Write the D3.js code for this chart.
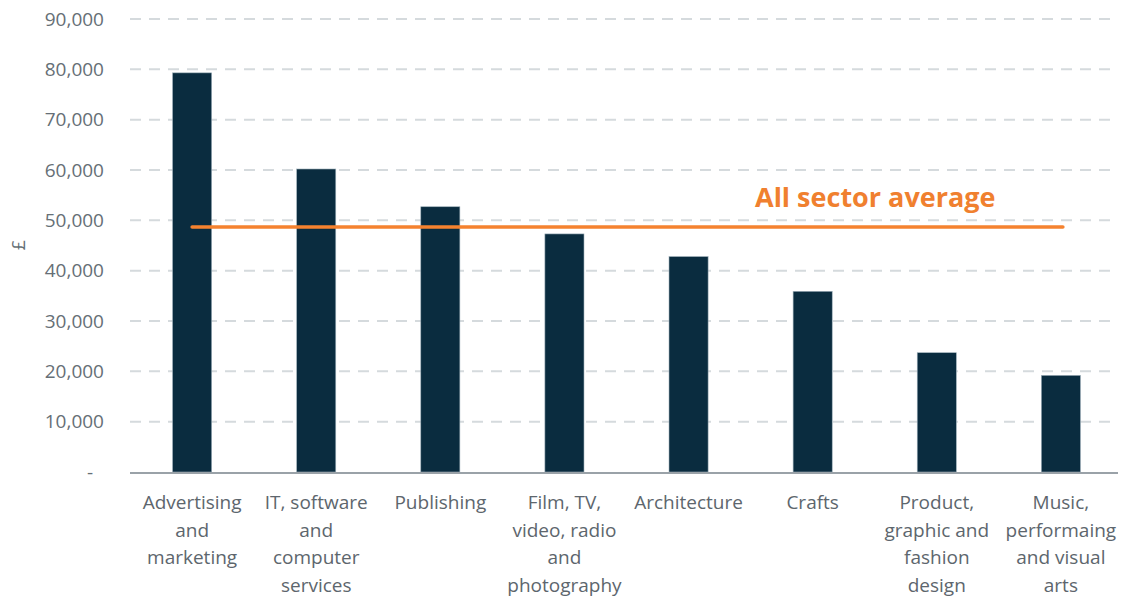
<!DOCTYPE html>
<html>
<head>
<meta charset="utf-8">
<script src="https://cdn.jsdelivr.net/npm/d3@7"></script>
<style>
  body { margin: 0; background: #fff; }
  text { font-family: "Open Sans", sans-serif; }
</style>
</head>
<body>
<div id="d3-container"></div>
<script>
/* DATA */
const categories = [
  ["Advertising", "and", "marketing"],
  ["IT, software", "and", "computer", "services"],
  ["Publishing"],
  ["Film, TV,", "video, radio", "and", "photography"],
  ["Architecture"],
  ["Crafts"],
  ["Product,", "graphic and", "fashion", "design"],
  ["Music,", "performaing", "and visual", "arts"]
];
const values = [79300, 60200, 52700, 47300, 42800, 35900, 23700, 19200];
const average = 48700;
const averageLabel = "All sector average";
const yTicks = [0, 10000, 20000, 30000, 40000, 50000, 60000, 70000, 80000, 90000];

/* CONSTANTS */
const width = 1127,
  height = 599,
  margin = { top: 19, bottom: 127, left: 130, right: 4 };

const svg = d3.select("#d3-container")
  .append("svg")
  .attr("width", width)
  .attr("height", height);

const keys = categories.map(d => d.join(" "));

const x = d3.scaleBand()
  .domain(keys)
  .range([margin.left, width - margin.right])
  .paddingInner(0.685)
  .paddingOuter(0.343);

const y = d3.scaleLinear()
  .domain([0, 90000])
  .range([height - margin.bottom, margin.top]);

// gridlines
svg.append("g")
  .selectAll("line")
  .data(yTicks.slice(1))
  .join("line")
  .attr("x1", margin.left)
  .attr("x2", width - 9)
  .attr("y1", d => y(d))
  .attr("y2", d => y(d))
  .attr("stroke", "#d5dadd")
  .attr("stroke-width", 2)
  .attr("stroke-dasharray", "11 8");

// y axis labels
const yAxis = svg.append("g")
  .attr("transform", `translate(${margin.left - 26},0)`)
  .call(d3.axisLeft(y).tickValues(yTicks).tickSize(0).tickPadding(0)
    .tickFormat(d => d === 0 ? "-" : d3.format(",")(d)));
yAxis.select(".domain").remove();
yAxis.selectAll("text")
  .attr("fill", "#666f76")
  .style("font-size", "19px")
  .style("font-family", "'Open Sans', sans-serif")
  .attr("dx", d => d === 0 ? -11 : 0);

// y axis title
svg.append("text")
  .attr("transform", `translate(25,245) rotate(-90)`)
  .attr("text-anchor", "middle")
  .attr("fill", "#666f76")
  .style("font-size", "18px")
  .text("£");

// bars
svg.append("g")
  .selectAll("rect")
  .data(values)
  .join("rect")
  .attr("x", (d, i) => x(keys[i]))
  .attr("y", d => y(d))
  .attr("width", x.bandwidth())
  .attr("height", d => y(0) - y(d))
  .attr("fill", "#0a2c3f")
  .attr("stroke", "#9fb0ba")
  .attr("stroke-width", 0.6);

// x axis line
svg.append("line")
  .attr("x1", margin.left)
  .attr("x2", 1118)
  .attr("y1", y(0) + 1)
  .attr("y2", y(0) + 1)
  .attr("stroke", "#9aa2a8")
  .attr("stroke-width", 2);

// category labels
const labels = svg.append("g")
  .selectAll("text")
  .data(categories)
  .join("text")
  .attr("x", (d, i) => x(keys[i]) + x.bandwidth() / 2)
  .attr("y", 509)
  .attr("text-anchor", "middle")
  .attr("fill", "#5d666d")
  .style("font-size", "19px");
labels.selectAll("tspan")
  .data(d => d)
  .join("tspan")
  .attr("x", function () { return d3.select(this.parentNode).attr("x"); })
  .attr("dy", (d, i) => i === 0 ? 0 : 27.7)
  .text(d => d);

// average line
const avgX1 = x(keys[0]) + x.bandwidth() / 2;
const avgX2 = x(keys[keys.length - 1]) + x.bandwidth() / 2 + 2;
svg.append("line")
  .attr("x1", avgX1)
  .attr("x2", avgX2)
  .attr("y1", y(average))
  .attr("y2", y(average))
  .attr("stroke", "#f5822f")
  .attr("stroke-width", 3.5)
  .attr("stroke-linecap", "round");

svg.append("text")
  .attr("x", 755)
  .attr("y", 207)
  .attr("fill", "#f0802f")
  .style("font-size", "27px")
  .style("font-weight", "bold")
  .text(averageLabel);
</script>
</body>
</html>
